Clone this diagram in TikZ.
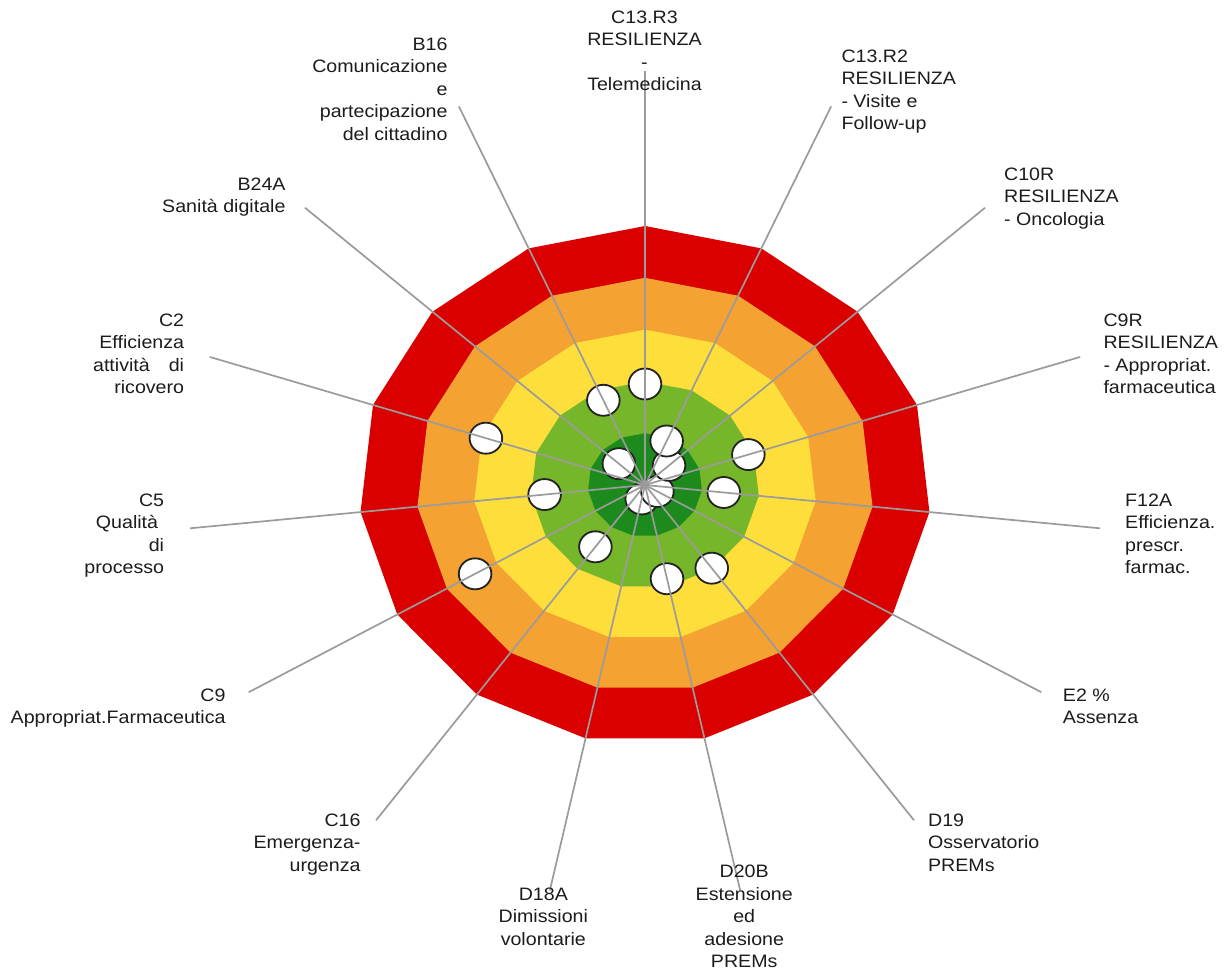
\documentclass[tikz,border=0pt]{standalone}
\usepackage{fontspec}
\setmainfont{Liberation Sans}[FakeStretch=1.09]
\usetikzlibrary{shapes.geometric}
\definecolor{cred}{RGB}{218,0,0}
\definecolor{corange}{RGB}{244,162,50}
\definecolor{cyellow}{RGB}{253,222,58}
\definecolor{clgreen}{RGB}{118,182,42}
\definecolor{cdgreen}{RGB}{28,138,28}
\definecolor{cspoke}{RGB}{155,155,155}
\definecolor{ctext}{RGB}{28,28,28}
\definecolor{cmark}{RGB}{35,35,35}
\begin{document}
\begin{tikzpicture}[x=1pt,y=-1pt,
  spoke/.style={draw=cspoke,line width=1.7pt},
  marker/.style={ellipse,draw=cmark,line width=1.8pt,fill=white,minimum width=32.6pt,minimum height=31pt,inner sep=0pt},
  lbl/.style={font=\fontsize{18}{22.5}\selectfont,text=ctext,inner sep=0pt}]
\useasboundingbox (0,0) rectangle (1230,973);
\fill[white] (0,0) rectangle (1230,973);
\coordinate (c) at (645,485);
\foreach \k in {0,...,14}{
  \pgfmathsetmacro\a{90-24*\k}
  \foreach \r/\n in {1/5,0.8/4,0.6/3,0.4/2,0.2/1}{
    \coordinate (p\n-\k) at ({645+286*\r*cos(\a)},{485-259*\r*sin(\a)});
  }
  \coordinate (e\k) at ({645+286*1.6*cos(\a)},{485-259*1.6*sin(\a)});
}
\foreach \n/\col in {5/cred,4/corange,3/cyellow,2/clgreen,1/cdgreen}{
  \fill[\col] (p\n-0) \foreach \k in {1,...,14}{ -- (p\n-\k)} -- cycle;
}
\foreach \k/\r in {14/0.358,13/0.123,12/0.585,11/0.353,10/0.686,9/0.295,8/0.055,7/0.37,6/0.397,5/0.05,4/0.277,3/0.38,2/0.113,1/0.186,0/0.39}{
  \pgfmathsetmacro\a{90-24*\k}
  \node[marker] (m\k) at ({645+286*\r*cos(\a)},{485-259*\r*sin(\a)}) {};
}
\foreach \k in {0,...,14}{
  \draw[spoke] (c) -- (e\k);
}
\node[lbl,anchor=north,align=center] (lab0) at (644.5,10.7) {C13.R3\\RESILIENZA\\-\\Telemedicina};
\node[lbl,anchor=north west,align=left] (lab1) at (841.3,49.3) {C13.R2\\RESILIENZA\\- Visite e\\Follow-up};
\node[lbl,anchor=north west,align=left] (lab2) at (1003.9,167.7) {C10R\\RESILIENZA\\- Oncologia};
\node[lbl,anchor=north west,align=left] (lab3) at (1103.3,313.3) {C9R\\RESILIENZA\\- Appropriat.\\farmaceutica};
\node[lbl,anchor=north west,align=left] (lab4) at (1125,493.3) {F12A\\Efficienza.\\prescr.\\farmac.};
\node[lbl,anchor=north west,align=left] (lab5) at (1062.7,688.3) {E2 \%\\Assenza};
\node[lbl,anchor=north west,align=left] (lab6) at (927.9,813.3) {D19\\Osservatorio\\PREMs};
\node[lbl,anchor=north,align=center] (lab7) at (744.2,865) {D20B\\Estensione\\ed\\adesione\\PREMs};
\node[lbl,anchor=north,align=center] (lab8) at (543.3,887.7) {D18A\\Dimissioni\\volontarie};
\node[lbl,anchor=north east,align=right] (lab9) at (360.7,813.3) {C16\\Emergenza-\\urgenza};
\node[lbl,anchor=north east,align=right] (lab10) at (225.7,688.3) {C9\\Appropriat.Farmaceutica};
\node[lbl,anchor=north east,align=right] (lab11) at (164.3,493.3) {C5\\Qualità\kern6pt\\di\\processo};
\node[lbl,anchor=north east,align=right] (lab12) at (184.3,313.3) {C2\\Efficienza\\attività\hspace{19pt}di\\ricovero};
\node[lbl,anchor=north east,align=right] (lab13) at (285.7,177.3) {B24A\\Sanità digitale};
\node[lbl,anchor=north east,align=right] (lab14) at (447.7,37.3) {B16\\Comunicazione\\e\\partecipazione\\del cittadino};
\end{tikzpicture}
\end{document}
